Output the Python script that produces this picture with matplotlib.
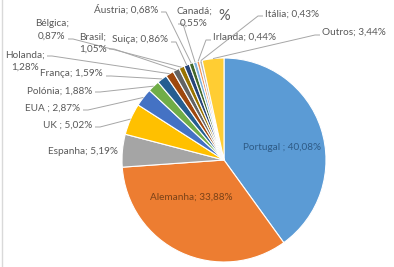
import matplotlib.pyplot as plt
import numpy as np

# dados (%)
paises = ['Portugal ', 'Alemanha', 'Espanha', 'UK ', 'EUA ', 'Polónia', 'França',
          'Holanda', 'Brasil', 'Bélgica', 'Suiça', 'Áustria', 'Canadá',
          'Irlanda', 'Itália', 'Outros']
valores = [40.08, 33.88, 5.19, 5.02, 2.87, 1.88, 1.59, 1.28, 1.05, 0.87,
           0.86, 0.68, 0.55, 0.44, 0.43, 3.44]
cores = ['#5B9BD5', '#ED7D31', '#A5A5A5', '#FFC000', '#4472C4', '#70AD47',
         '#255E91', '#9E480E', '#636363', '#997300', '#264478', '#43682B',
         '#7CAFDD', '#F1975A', '#B7B7B7', '#FFCD33']
quebra = ['Holanda', 'Brasil', 'Bélgica', 'Canadá']

# posicao dos rotulos em pixels: x, y, alinhamento, ponto da linha (ou None)
pos = {
    'Portugal ': (282, 147, 'center', None),
    'Alemanha': (191, 197, 'center', None),
    'Espanha': (118, 151, 'right', None),
    'UK ': (92, 125, 'right', (95, 127)),
    'EUA ': (80, 108, 'right', (83, 110)),
    'Polónia': (92, 91, 'right', (95, 92)),
    'França': (103, 74, 'right', (106, 76)),
    'Holanda': (25, 61, 'center', (47, 56)),
    'Brasil': (93, 43, 'center', (109, 49)),
    'Bélgica': (52, 30, 'center', (68, 39)),
    'Suiça': (168, 40, 'right', (171, 42)),
    'Áustria': (158, 10, 'right', (161, 12)),
    'Canadá': (194, 17, 'center', (178, 24)),
    'Irlanda': (213, 37, 'left', (211, 40)),
    'Itália': (265, 14, 'left', (263, 16)),
    'Outros': (322, 32, 'left', (320, 35)),
}
cor_dentro = {'Portugal ': '#2E5A85', 'Alemanha': '#7A4218'}

W, H = 394, 267
cx, cy, r = 224, 160, 102

fig = plt.figure(figsize=(W / 100, H / 100), dpi=100)
ax = fig.add_axes([0, 0, 1, 1])
wedges, _ = ax.pie(valores, colors=cores, startangle=90, counterclock=False,
                   center=(cx, H - cy), radius=r,
                   wedgeprops=dict(edgecolor='white', linewidth=0.8))
ax.set_xlim(0, W)
ax.set_ylim(0, H)
ax.set_aspect('equal')
ax.axis('off')

cor_txt = '#595959'
for w, nome, v in zip(wedges, paises, valores):
    x, y, ha, anc = pos[nome]
    num = ('%.2f' % v).replace('.', ',') + '%'
    if nome in quebra:
        txt = nome + ';\n' + num
    else:
        txt = nome + '; ' + num
    c = cor_dentro.get(nome, cor_txt)
    ax.text(x, H - y, txt, ha=ha, va='center', fontsize=7.2, color=c,
            family='Lato', linespacing=1.45)
    if anc is not None:
        t = np.radians((w.theta1 + w.theta2) / 2)
        px = cx + r * np.cos(t)
        py = (H - cy) + r * np.sin(t)
        d = 5 if px > anc[0] else -5
        ax.plot([anc[0], anc[0] + d, px], [H - anc[1], H - anc[1], py],
                color='#A6A6A6', lw=0.7, solid_capstyle='butt')

ax.text(224, H - 16, '%', ha='center', va='center', fontsize=10.5,
        color=cor_txt, family='Lato')
ax.plot([2, 2], [0, H], color='#D9D9D9', lw=1)

fig.savefig('out.png', dpi=100)
